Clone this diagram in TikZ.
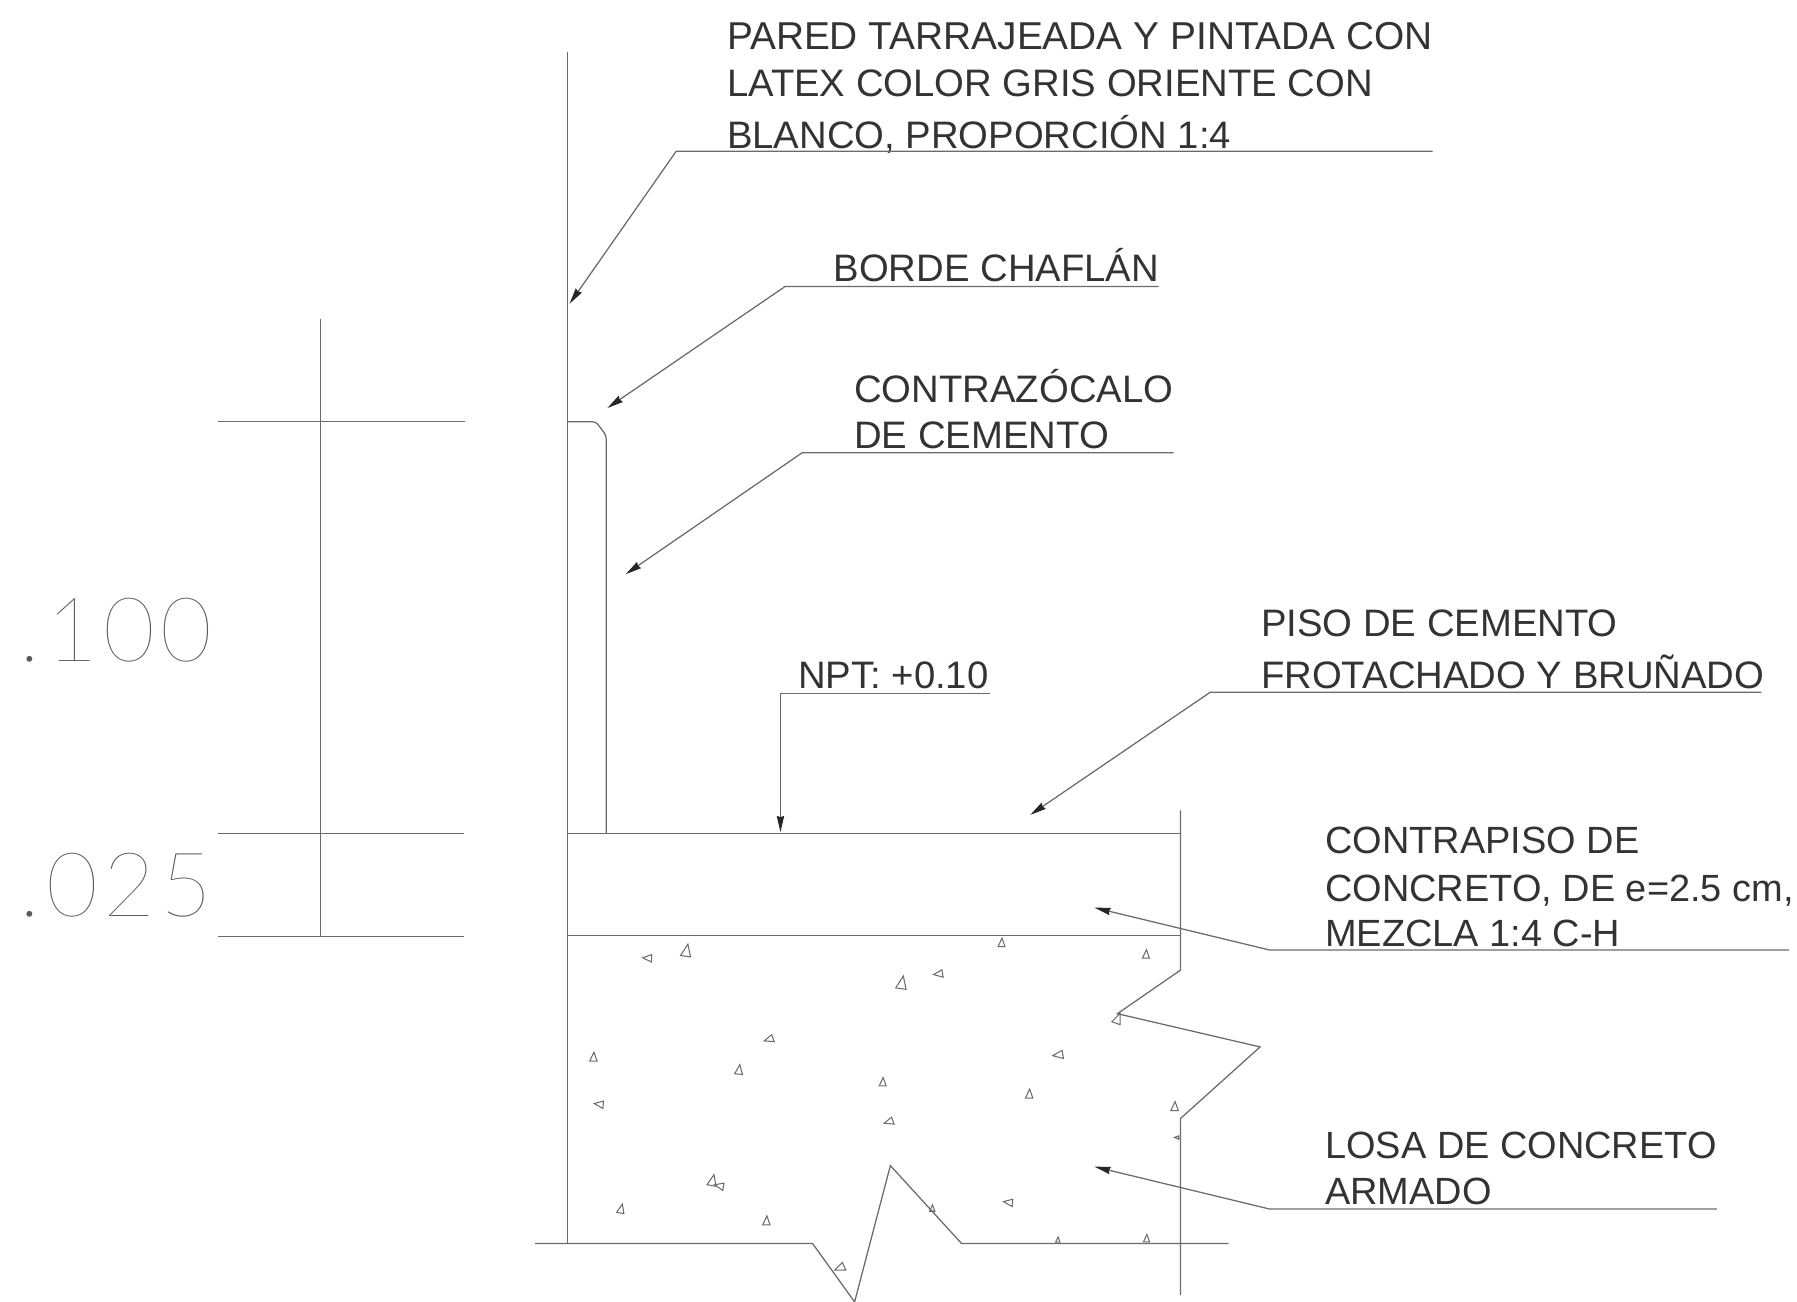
\documentclass[tikz,border=0pt]{standalone}
\usepackage{fontspec}
\setmainfont{Liberation Sans}
\newfontfamily\dimfont[LetterSpace=6]{Lato Hairline}
\usetikzlibrary{arrows.meta}
\definecolor{linec}{gray}{0.42}
\definecolor{textc}{gray}{0.2}
\definecolor{dimc}{gray}{0.35}
\tikzset{
  geom/.style={draw=linec,line width=0.55pt},
  leader/.style={draw=linec,line width=0.55pt,-{Stealth[length=7pt,width=3.2pt,inset=0.5pt,color=black!85]}},
  note/.style={anchor=base west,inner sep=0pt,text=textc,font=\fontsize{16.7}{20}\selectfont},
  notewide/.style={note,font=\fontsize{16.95}{20}\selectfont},
  notenarrow/.style={note,font=\fontsize{16.55}{20}\selectfont},
  dimtext/.style={anchor=base west,inner sep=0pt,text=dimc,font=\dimfont\fontsize{39}{44}\selectfont},
  agg/.style={draw=linec,line width=0.45pt},
}
\newcommand{\aggr}[4]{\draw[agg,shift={(#1,#2)},rotate=#3,scale=#4] (-3.8,3.8) -- (3.8,3.8) -- (0.5,-5.5) -- cycle;}
\begin{document}
\begin{tikzpicture}[x=0.5pt,y=-0.5pt]
\useasboundingbox (0,0) rectangle (1568,1136);
% dimension lines
\coordinate (dt) at (279.6,278); \coordinate (db) at (279.6,817);
\draw[geom] (dt) -- (db);
\draw[geom] (190,368) coordinate (a1) -- (406,368) coordinate (a2);
\draw[geom] (190,727) coordinate (b1) -- (405,727) coordinate (b2);
\draw[geom] (190,817) coordinate (c1) -- (405,817) coordinate (c2);
\node[dimtext] (d100) at (17,577) {.100};
\node[dimtext] (d025) at (17,800) {.025};
% wall and slab
\draw[geom] (495,45) -- (495,1085);
\draw[geom,rounded corners=1.5pt] (495,368) -- (520,368) -- (529,380) -- (529,727);
\draw[geom] (495,727) -- (1030,727);
\draw[geom,line width=0.6pt] (495,816.4) -- (1030,816.4);
\draw[geom] (1030,707) -- (1030,846.5) -- (975,884.5) -- (1099.5,913.5) -- (1030,976) -- (1030,1130);
\draw[geom] (467,1085) -- (709,1085) -- (745.7,1136) -- (776.9,1017) -- (839,1085) -- (1072,1085);
% aggregate
\aggr{565.4}{836.2}{90}{0.85}
\aggr{598.8}{830}{-8}{1.15}
\aggr{873.9}{823}{0}{0.8}
\aggr{999.9}{833}{0}{0.8}
\aggr{786.7}{858.1}{-8}{1.2}
\aggr{819.2}{850}{100}{0.85}
\aggr{975}{889.2}{-20}{1}
\aggr{671.4}{907}{110}{0.85}
\aggr{517.8}{922.7}{0}{0.85}
\aggr{644.7}{933.8}{-5}{0.9}
\aggr{923.8}{920.7}{100}{0.95}
\aggr{770.2}{944.5}{0}{0.8}
\aggr{898}{955}{0}{0.85}
\aggr{523.1}{963.7}{85}{0.85}
\aggr{776}{978.9}{110}{0.85}
\aggr{1024.9}{965.8}{0}{0.85}
\aggr{1027}{992.6}{90}{0.4}
\aggr{621.5}{1030.5}{-10}{1.05}
\aggr{628}{1035}{80}{0.85}
\aggr{541.8}{1055.2}{-10}{0.85}
\aggr{668.7}{1065.6}{0}{0.85}
\aggr{813.4}{1054.6}{0}{0.6}
\aggr{880.2}{1049.3}{85}{0.85}
\aggr{733.3}{1106.4}{115}{0.95}
\aggr{923}{1082}{0}{0.5}
\aggr{1000.4}{1081}{0}{0.7}
% texts
\node[notewide] (t1a) at (634,43) {PARED TARRAJEADA Y PINTADA CON};
\node[note] (t1b) at (634,84) {LATEX COLOR GRIS ORIENTE CON};
\node[note] (t1c) at (634,130) {BLANCO, PROPORCIÓN 1:4};
\node[note] (t2) at (727,246) {BORDE CHAFLÁN};
\node[note] (t3a) at (745,351) {CONTRAZÓCALO};
\node[note] (t3b) at (745,391) {DE CEMENTO};
\node[note] (t4) at (696,601) {NPT: +0.10};
\node[note] (t5a) at (1100,555) {PISO DE CEMENTO};
\node[note] (t5b) at (1100,601) {FROTACHADO Y BRUÑADO};
\node[notenarrow] (t6a) at (1156,745) {CONTRAPISO DE};
\node[notenarrow] (t6b) at (1156,787) {CONCRETO, DE e=2.5 cm,};
\node[notenarrow] (t6c) at (1156,826) {MEZCLA 1:4 C-H};
\node[notenarrow] (t7a) at (1156,1011) {LOSA DE CONCRETO};
\node[notenarrow] (t7b) at (1156,1051) {ARMADO};
% leader ends
\coordinate (l1s) at (1250,132); \coordinate (l1k) at (590,132); \coordinate (l1e) at (497,265);
\coordinate (l2s) at (1011,250); \coordinate (l2k) at (685,250); \coordinate (l2e) at (530,356);
\coordinate (l3s) at (1024,395); \coordinate (l3k) at (700,395); \coordinate (l3e) at (546,501);
\coordinate (l4s) at (864,605);  \coordinate (l4k) at (681,605); \coordinate (l4e) at (681,726);
\coordinate (l5s) at (1537,604); \coordinate (l5k) at (1056,604);\coordinate (l5e) at (899,711);
\coordinate (l6s) at (1561,829); \coordinate (l6k) at (1108,829);\coordinate (l6e) at (955,792);
\coordinate (l7s) at (1498,1055);\coordinate (l7k) at (1108,1055);\coordinate (l7e) at (955,1018);
\foreach \i in {1,...,7} {\draw[leader] (l\i s) -- (l\i k) -- (l\i e);}
\end{tikzpicture}
\end{document}
